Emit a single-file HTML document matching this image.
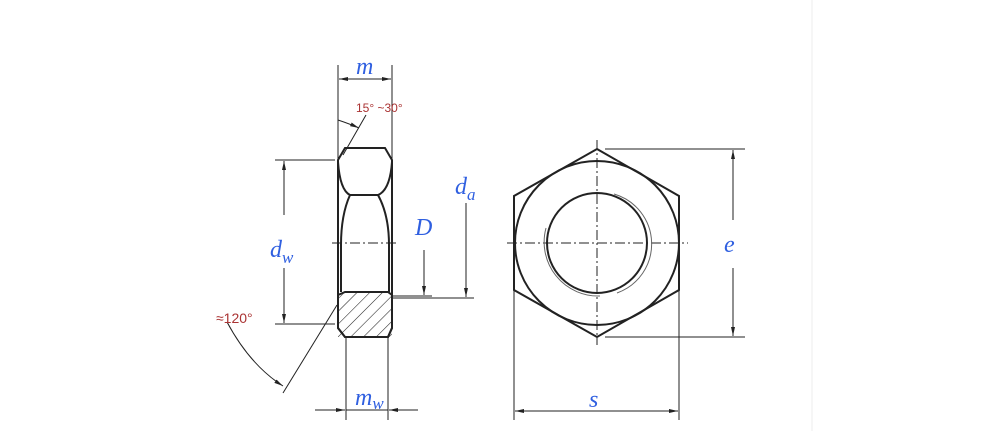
<!DOCTYPE html>
<html><head><style>body{margin:0;background:#fff}svg{display:block}</style></head><body>
<svg width="1000" height="431" viewBox="0 0 1000 431" xmlns="http://www.w3.org/2000/svg" font-family="Liberation Serif, serif">
<defs>
<marker id="a" markerWidth="10" markerHeight="6" refX="9" refY="3" orient="auto" markerUnits="userSpaceOnUse"><path d="M0,1 L9,3 L0,5 Z" fill="#222"/></marker>
<pattern id="h" width="9" height="9" patternUnits="userSpaceOnUse" patternTransform="rotate(45)"><line x1="0" y1="0" x2="0" y2="9" stroke="#222" stroke-width="1.1"/></pattern>
</defs>
<line x1="812" y1="0" x2="812" y2="431" stroke="#eee" stroke-width="1"/>
<g stroke="#222" fill="none">
<!-- side view -->
<g stroke-width="2">
<path d="M338,160 L345,148 L385,148 L392,160 L392,328 L388,337 L345,337 L338,328 Z"/>
<path d="M338,162 Q340,190 350,195 L378,195 Q390,190 392,162"/>
<path d="M350,195 Q341,215 341,245 L341,292 M378,195 Q389,215 389,245 L389,292"/>
<rect x="338" y="292" width="54" height="45" fill="url(#h)" stroke="none"/>
<path d="M338,328 L338,295 L345,292 L388,292 L392,295 L392,328 L388,337 L345,337 Z" />
</g>
<g stroke-width="1">
<line x1="332" y1="243" x2="398" y2="243" stroke-dasharray="10,3,2,3"/>
<!-- m -->
<line x1="338" y1="65" x2="338" y2="160"/><line x1="392" y1="65" x2="392" y2="160"/>
<line x1="365" y1="79" x2="339" y2="79" marker-end="url(#a)"/><line x1="365" y1="79" x2="391" y2="79" marker-end="url(#a)"/>
<!-- dw -->
<line x1="275" y1="160" x2="335" y2="160"/><line x1="275" y1="324" x2="335" y2="324"/>
<line x1="284" y1="215" x2="284" y2="161" marker-end="url(#a)"/><line x1="284" y1="268" x2="284" y2="323" marker-end="url(#a)"/>
<!-- D -->
<line x1="424" y1="250" x2="424" y2="295" marker-end="url(#a)"/>
<line x1="393" y1="296" x2="432" y2="296"/>
<!-- da -->
<line x1="466" y1="203" x2="466" y2="297" marker-end="url(#a)"/>
<line x1="393" y1="298" x2="474" y2="298"/>
<!-- mw -->
<line x1="346" y1="338" x2="346" y2="420"/><line x1="388" y1="338" x2="388" y2="420"/>
<line x1="315" y1="410" x2="345" y2="410" marker-end="url(#a)"/><line x1="418" y1="410" x2="389" y2="410" marker-end="url(#a)"/>
<line x1="346" y1="410" x2="388" y2="410"/>
<!-- angles -->
<line x1="343" y1="155" x2="366" y2="115"/>
<path d="M338,120 Q350,124 359,128" marker-end="url(#a)"/>
<line x1="337" y1="305" x2="283" y2="393"/>
<path d="M227,322 Q250,365 283,386" marker-end="url(#a)"/>
<!-- front view -->
<line x1="597" y1="140" x2="597" y2="345" stroke-dasharray="10,3,2,3"/>
<line x1="507" y1="243" x2="688" y2="243" stroke-dasharray="10,3,2,3"/>
<line x1="605" y1="149" x2="745" y2="149"/><line x1="605" y1="337" x2="745" y2="337"/>
<line x1="733" y1="220" x2="733" y2="150" marker-end="url(#a)"/><line x1="733" y1="268" x2="733" y2="336" marker-end="url(#a)"/>
<line x1="514" y1="290" x2="514" y2="420"/><line x1="679" y1="290" x2="679" y2="420"/>
<line x1="597" y1="411" x2="515" y2="411" marker-end="url(#a)"/><line x1="597" y1="411" x2="678" y2="411" marker-end="url(#a)"/>
<path d="M614,194 A52,52 0 0 1 617,293" stroke="#666"/>
<path d="M546,228 A54,54 0 0 0 600,296" stroke="#666"/>
</g>
<g stroke-width="2">
<polygon points="597,149 679,196 679,290 597,337 514,290 514,196"/>
<circle cx="597" cy="243" r="82"/>
<circle cx="597" cy="243" r="50"/>
</g>
</g>
<g fill="#2f5fe0" font-style="italic" font-size="24">
<text x="356" y="74">m</text>
<text x="270" y="257">d<tspan font-size="17" dy="6">w</tspan></text>
<text x="415" y="235">D</text>
<text x="455" y="194">d<tspan font-size="17" dy="6">a</tspan></text>
<text x="355" y="405">m<tspan font-size="17" dy="4">w</tspan></text>
<text x="724" y="252">e</text>
<text x="589" y="407">s</text>
</g>
<g fill="#a33" font-family="Liberation Sans, sans-serif" font-size="12">
<text x="356" y="112">15°  ~30°</text>
<text x="216" y="323" font-size="14">≈120°</text>
</g>
</svg>
</body></html>
